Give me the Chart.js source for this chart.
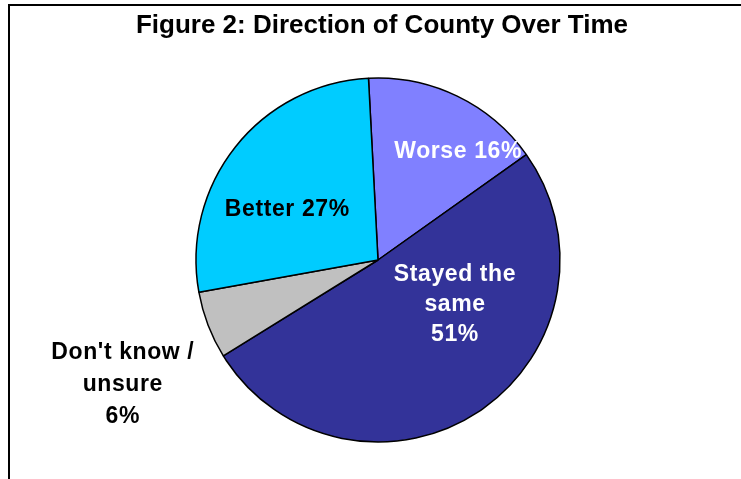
<!DOCTYPE html>
<html>
<head>
<meta charset="utf-8">
<script src="https://cdn.jsdelivr.net/npm/chart.js@4/dist/chart.umd.min.js"></script>
<style>
  html, body { margin: 0; padding: 0; background: #fff; overflow: hidden; }
  #wrap { position: relative; width: 741px; height: 479px; }
  #frame { position: absolute; left: 8px; top: 4px; width: 900px; height: 900px;
           border-top: 2px solid #000; border-left: 2px solid #000; box-sizing: border-box; }
  canvas { position: absolute; left: 0; top: 0; }
</style>
</head>
<body>
<div id="wrap">
  <div id="frame"></div>
  <canvas id="c" width="741" height="479"></canvas>
</div>
<script>
const titleText = "Figure 2: Direction of County Over Time";
const categories = ["Worse", "Stayed the same", "Don't know / unsure", "Better"];
const values = [16, 51, 6, 27];
const labelLines = [["Worse 16%"], ["Stayed the", "same", "51%"], ["Don't know /", "unsure", "6%"], ["Better 27%"]];
const colors = ["#8080FF", "#333399", "#C0C0C0", "#00CCFF"];
const textColors = ["#FFFFFF", "#FFFFFF", "#000000", "#000000"];

// label placement: angle (deg clockwise from 12 o'clock), distance from centre (fraction of radius), line height
const labelPlace = [
  { angle: 36.5, dist: 0.74, lh: 30 },
  { angle: 120.3, dist: 0.49, lh: 30 },
  { angle: 244, dist: 1.56, lh: 32 },
  { angle: 299, dist: 0.57, lh: 30 }
];

const labelPlugin = {
  id: 'sliceLabels',
  afterDatasetsDraw(chart) {
    const ctx = chart.ctx;
    const meta = chart.getDatasetMeta(0);
    ctx.save();
    ctx.font = "bold 23px 'Liberation Sans', Arial, sans-serif";
    ctx.letterSpacing = "0.6px";
    ctx.textAlign = "center";
    ctx.textBaseline = "middle";
    meta.data.forEach((arc, i) => {
      const p = labelPlace[i];
      const a = (p.angle - 90) * Math.PI / 180;
      const r = arc.outerRadius * p.dist;
      const cx = arc.x + Math.cos(a) * r;
      const cy = arc.y + Math.sin(a) * r;
      const lines = labelLines[i];
      ctx.fillStyle = textColors[i];
      lines.forEach((ln, k) => {
        ctx.fillText(ln, cx, cy + (k - (lines.length - 1) / 2) * p.lh);
      });
    });
    ctx.restore();
  }
};

new Chart(document.getElementById('c'), {
  type: 'pie',
  data: {
    labels: categories,
    datasets: [{
      data: values,
      backgroundColor: colors,
      borderColor: "#000000",
      borderWidth: 1.5,
      radius: 182
    }]
  },
  options: {
    responsive: false,
    animation: false,
    rotation: -3,
    layout: { padding: { top: 78, bottom: 37, left: 196, right: 181 } },
    plugins: {
      legend: { display: false },
      tooltip: { enabled: false },
      title: { display: false }
    }
  },
  plugins: [labelPlugin, {
    id: 'titleDraw',
    afterDraw(chart) {
      const ctx = chart.ctx;
      ctx.save();
      ctx.font = "bold 26px 'Liberation Sans', Arial, sans-serif";
      ctx.fillStyle = "#000";
      ctx.textAlign = "center";
      ctx.textBaseline = "middle";
      ctx.fillText(titleText, 382, 26);
      ctx.restore();
    }
  }]
});
</script>
</body>
</html>
